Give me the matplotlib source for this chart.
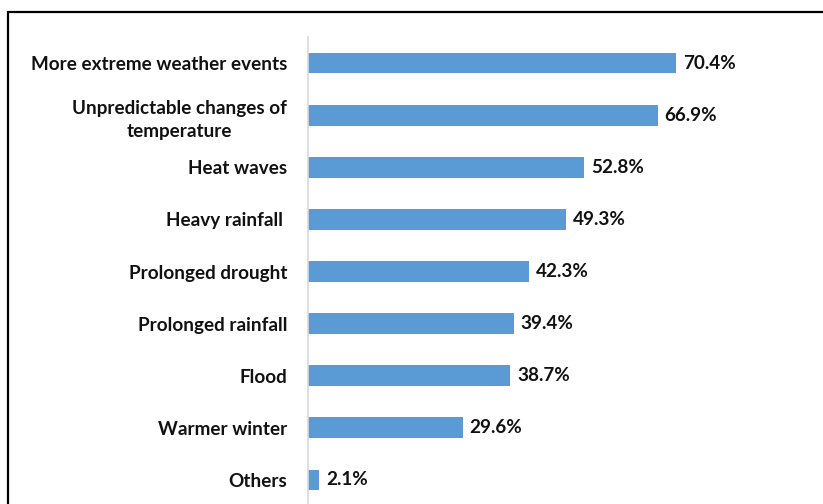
import matplotlib.pyplot as plt
from matplotlib.patches import Rectangle

# Share of respondents naming each climate change impact
impacts = ['More extreme weather events', 'Unpredictable changes of\ntemperature',
           'Heat waves', 'Heavy rainfall ', 'Prolonged drought', 'Prolonged rainfall',
           'Flood', 'Warmer winter', 'Others']
shares = [70.4, 66.9, 52.8, 49.3, 42.3, 39.4, 38.7, 29.6, 2.1]

plt.rcParams['font.family'] = ['Lato', 'DejaVu Sans']

fig = plt.figure(figsize=(8.23, 5.04), dpi=100)
W, H = 823, 504
# axes: left edge at the category axis, runs off the bottom of the canvas
ax = fig.add_axes([308 / W, -2 / H, 470 / W, 469 / H])

pos = list(range(len(impacts)))
bars = ax.barh(pos, shares, height=0.4, color='#5B9BD5')
ax.set_ylim(len(impacts) - 0.5, -0.5)
ax.set_xlim(0, 470 / 5.227)

ax.set_yticks(pos)
ax.set_yticklabels(impacts, fontsize=13.6, fontweight='bold', color='#111111')
for lab in ax.get_yticklabels():
    lab.set_multialignment('center')
    lab.set_linespacing(1.45)
ax.tick_params(axis='y', length=0, pad=15)
ax.set_xticks([])

for s in ['top', 'right', 'bottom']:
    ax.spines[s].set_visible(False)
ax.spines['left'].set_color('#D9D9D9')
ax.spines['left'].set_linewidth(1.2)

for b, v in zip(bars, shares):
    ax.annotate(f'{v:.1f}%', (b.get_width(), b.get_y() + b.get_height() / 2),
                xytext=(5, 0), textcoords='offset points', va='center', ha='left',
                fontsize=13.6, fontweight='bold', color='#111111')

# chart frame (only top and left edges fall inside the canvas)
fig.patches.append(Rectangle((8 / W, -0.05), 1.0, 1.05 - 12 / H,
                             transform=fig.transFigure, fill=False,
                             edgecolor='black', linewidth=1.6))

fig.savefig('out.png', dpi=100)
